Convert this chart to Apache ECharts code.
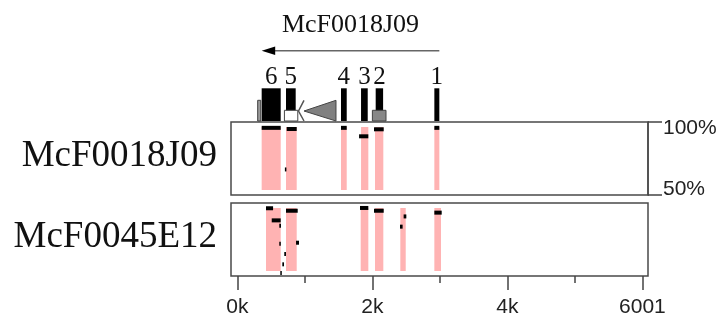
<!DOCTYPE html>
<html><head><meta charset="utf-8">
<script src="https://cdn.jsdelivr.net/npm/echarts@6/dist/echarts.min.js"></script>
<style>html,body{margin:0;padding:0;background:#fff}#c{width:720px;height:320px}</style>
</head><body><div id="c"></div>
<script>
// ---- data (positions in bp, identity in %) ----
const geneName = 'McF0018J09';
const geneSpan = [361, 2993];            // gene runs right-to-left
const exonNumbers = ['6', '5', '4', '3', '2', '1'];
const exons = [[361, 643], [721, 865], [1536, 1621], [1833, 1932], [2050, 2160], [2919, 2993]];
const whiteBoxes = [[698, 896]];
const grayBoxes = [[2001, 2203]];
const thinBoxes = [[302, 347]];
const repeats = [[988, 1462, 907]];      // tip, base, outer chevron
const trackNames = ['McF0018J09', 'McF0045E12'];
const pink1 = [[361, 643], [721, 880], [1536, 1621], [1833, 1941], [2040, 2163], [2919, 2993]];
const pink2 = [[425, 643], [721, 880], [1828, 1941], [2040, 2163], [2415, 2495], [2919, 3018]];
const seg1 = [[361, 643, 96], [732, 880, 95.2], [705, 722, 67.5], [1536, 1621, 96],
              [1804, 1941, 90.2], [2025, 2169, 95], [2919, 2993, 96]];
const seg2 = [[425, 530, 96.4], [510, 643, 88.1], [622, 647, 84.5], [622, 637, 72.1],
              [696, 721, 65], [667, 692, 58], [637, 657, 52], [721, 895, 94.7],
              [870, 914, 72.8], [1818, 1941, 96.6], [2025, 2169, 94.7],
              [2464, 2504, 90.8], [2410, 2449, 83.8], [2919, 3028, 93.4]];
const majorTicks = [0, 2000, 4000, 6001];
const minorTicks = [1000, 3000, 5000];
const pctTicks = [50, 100];

// ---- chart ----
const XMIN = -93.3, XMAX = 6084;
const SERIF = '"Liberation Serif", "Times New Roman", serif';
const SANS = '"Liberation Sans", Arial, sans-serif';
const chart = echarts.init(document.getElementById('c'));

function xAx(grid, extra) {
  return Object.assign({
    type: 'value', gridIndex: grid, min: XMIN, max: XMAX, position: 'bottom',
    axisLine: {show: false, onZero: false}, axisTick: {show: false}, axisLabel: {show: false}, splitLine: {show: false}
  }, extra || {});
}
function px(api, v) { return api.coord([v, 0])[0]; }

const boxItem = (fill, top) => function (params, api) {
  const s = px(api, api.value(0)), e = px(api, api.value(1));
  return {type: 'rect', shape: {x: s, y: top, width: e - s, height: 121 - top},
          style: {fill: fill, stroke: '#444', lineWidth: 1}};
};

const pinkItem = function (params, api) {
  const s = api.coord([api.value(0), 100])[0], e = api.coord([api.value(1), 100])[0];
  const cs = params.coordSys;
  return {type: 'rect', shape: {x: s, y: cs.y + 5, width: e - s, height: cs.height - 10},
          style: {fill: '#ffb3b3'}};
};
const segItem = function (params, api) {
  const a = api.coord([api.value(0), api.value(2)]);
  const b = api.coord([api.value(1), api.value(2)]);
  return {type: 'rect', shape: {x: a[0], y: a[1] - 2, width: Math.max(1.5, b[0] - a[0]), height: 4},
          style: {fill: '#000'}};
};

chart.setOption({
  animation: false,
  grid: [
    {left: 231, top: 0, width: 417, height: 122},
    {left: 231, top: 122, width: 417, height: 73, show: true, borderColor: '#4a4a4a', borderWidth: 1.5},
    {left: 231, top: 203, width: 417, height: 73, show: true, borderColor: '#4a4a4a', borderWidth: 1.5}
  ],
  xAxis: [
    xAx(0), xAx(1),
    xAx(2, {
      axisTick: {show: true, customValues: majorTicks, length: 14, lineStyle: {color: '#444', width: 1.5}},
      axisLabel: {show: true, customValues: majorTicks, margin: 21, fontSize: 21, fontFamily: SANS, color: '#222',
                  formatter: v => (v === 6001 ? '6001' : (v / 1000) + 'k')}
    }),
    xAx(2, {
      axisTick: {show: true, customValues: minorTicks, length: 7, lineStyle: {color: '#444', width: 1.5}}
    })
  ],
  yAxis: [
    {type: 'value', gridIndex: 0, min: 0, max: 1, show: false},
    {type: 'value', gridIndex: 1, min: 50, max: 100, interval: 50, position: 'right',
     axisLine: {show: true, onZero: false, lineStyle: {color: '#4a4a4a', width: 1.5}}, splitLine: {show: false},
     axisTick: {show: true, customValues: pctTicks, length: 14, lineStyle: {color: '#444', width: 1.5}},
     axisLabel: {show: true, customValues: pctTicks, margin: 15, fontSize: 21, fontFamily: SANS, color: '#222',
                 formatter: v => (v === 100 ? '{t|' + v + '%}' : '{b|' + v + '%}'),
                 rich: {t: {padding: [12, 0, 0, 0], fontSize: 21, fontFamily: SANS, color: '#222'},
                        b: {padding: [0, 0, 12, 0], fontSize: 21, fontFamily: SANS, color: '#222'}}}},
    {type: 'value', gridIndex: 2, min: 50, max: 100, show: false}
  ],
  graphic: trackNames.map((n, i) => ({
    type: 'text', x: 217, y: i === 0 ? 156 : 237,
    style: {text: n, fontSize: 37, fontFamily: SERIF, fill: '#111', align: 'right', verticalAlign: 'middle'}
  })),
  series: [
    // gene name + direction arrow
    {type: 'custom', xAxisIndex: 0, yAxisIndex: 0, data: [geneSpan],
     renderItem: function (params, api) {
       const s = px(api, api.value(0)), e = px(api, api.value(1));
       return {type: 'group', children: [
         {type: 'text', x: (s + e) / 2, y: 25,
          style: {text: geneName, fontSize: 26, fontFamily: SERIF, fill: '#111', align: 'center', verticalAlign: 'middle'}},
         {type: 'line', shape: {x1: s + 10, y1: 50.7, x2: e, y2: 50.7}, style: {stroke: '#666', lineWidth: 1.5}},
         {type: 'polygon', shape: {points: [[s, 50.7], [s + 13.5, 46.5], [s + 13.5, 54.9]]}, style: {fill: '#000'}}
       ]};
     }},
    // exons + numbers
    {type: 'custom', xAxisIndex: 0, yAxisIndex: 0, data: exons,
     renderItem: function (params, api) {
       const s = px(api, api.value(0)), e = px(api, api.value(1));
       return {type: 'group', children: [
         {type: 'rect', shape: {x: s, y: 88.3, width: e - s, height: 32.7}, style: {fill: '#000'}},
         {type: 'text', x: (s + e) / 2, y: 77,
          style: {text: exonNumbers[params.dataIndex], fontSize: 25, fontFamily: SERIF, fill: '#111',
                  align: 'center', verticalAlign: 'middle'}}
       ]};
     }},
    {type: 'custom', xAxisIndex: 0, yAxisIndex: 0, data: thinBoxes, renderItem: boxItem('#9a9a9a', 100.3)},
    {type: 'custom', xAxisIndex: 0, yAxisIndex: 0, data: whiteBoxes, renderItem: boxItem('#ffffff', 110.3)},
    {type: 'custom', xAxisIndex: 0, yAxisIndex: 0, data: grayBoxes, renderItem: boxItem('#888888', 110.3)},
    // repeat triangle
    {type: 'custom', xAxisIndex: 0, yAxisIndex: 0, data: repeats,
     renderItem: function (params, api) {
       const t = px(api, api.value(0)), b = px(api, api.value(1)), c = px(api, api.value(2));
       return {type: 'group', children: [
         {type: 'polygon', shape: {points: [[t, 111], [b, 100.3], [b, 121]]},
          style: {fill: '#808080', stroke: '#444', lineWidth: 1}},
         {type: 'polyline', shape: {points: [[t, 100.3], [c, 111], [t, 121]]},
          style: {fill: null, stroke: '#555', lineWidth: 1.5}}
       ]};
     }},
    // panel 1
    {type: 'custom', xAxisIndex: 1, yAxisIndex: 1, data: pink1, renderItem: pinkItem},
    {type: 'custom', xAxisIndex: 1, yAxisIndex: 1, data: seg1, renderItem: segItem},
    // panel 2
    {type: 'custom', xAxisIndex: 2, yAxisIndex: 2, data: pink2, renderItem: pinkItem},
    {type: 'custom', xAxisIndex: 3, yAxisIndex: 2, data: [], renderItem: () => null},
    {type: 'custom', xAxisIndex: 2, yAxisIndex: 2, data: seg2, renderItem: segItem}
  ]
});
</script></body></html>
